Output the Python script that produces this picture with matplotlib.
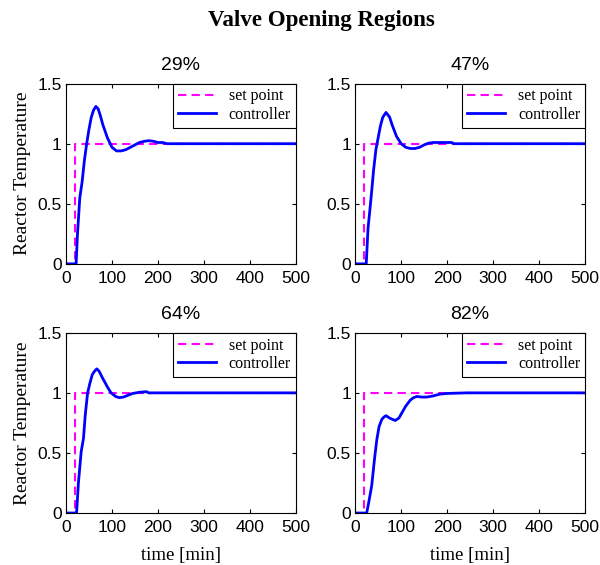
import numpy as np
import matplotlib.pyplot as plt

# valve opening regions
titles = ["29%", "47%", "64%", "82%"]

# set point step
sp_t = [0, 20, 20, 500]
sp_y = [0, 0, 1, 1]

# controller responses
t_29 = [0, 20, 22, 25, 30, 35, 40, 45, 50, 55, 60, 65, 70, 75, 80, 90, 100,
        110, 120, 130, 140, 150, 160, 170, 180, 190, 200, 210, 220, 500]
y_29 = [0, 0, 0, 0.25, 0.55, 0.68, 0.86, 1.0, 1.12, 1.22, 1.28, 1.31, 1.29,
        1.23, 1.16, 1.05, 0.97, 0.94, 0.94, 0.95, 0.97, 0.99, 1.01, 1.02,
        1.025, 1.02, 1.01, 1.01, 1.0, 1.0]

t_47 = [0, 20, 24, 28, 32, 36, 40, 45, 50, 55, 60, 67, 75, 80, 90, 100, 110,
        120, 130, 140, 150, 160, 170, 190, 210, 215, 500]
y_47 = [0, 0, 0, 0.3, 0.45, 0.61, 0.78, 0.95, 1.05, 1.15, 1.22, 1.26, 1.22,
        1.16, 1.06, 1.0, 0.97, 0.96, 0.96, 0.97, 0.99, 1.005, 1.01, 1.01,
        1.01, 1.0, 1.0]

t_64 = [0, 20, 23, 27, 33, 38, 42, 47, 52, 57, 62, 67, 72, 80, 90, 98, 108,
        116, 125, 135, 145, 160, 175, 180, 500]
y_64 = [0, 0, 0, 0.25, 0.51, 0.62, 0.82, 1.0, 1.08, 1.15, 1.18, 1.2, 1.18,
        1.12, 1.05, 1.0, 0.97, 0.96, 0.965, 0.98, 0.995, 1.005, 1.01, 1.0, 1.0]

t_82 = [0, 20, 25, 30, 36, 42, 47, 52, 58, 63, 67, 75, 87, 95, 101, 110, 120,
        127, 134, 145, 156, 170, 185, 200, 243, 500]
y_82 = [0, 0, 0, 0.1, 0.23, 0.45, 0.61, 0.72, 0.78, 0.8, 0.81, 0.79, 0.77,
        0.79, 0.83, 0.89, 0.94, 0.96, 0.97, 0.965, 0.965, 0.975, 0.99, 0.995,
        1.0, 1.0]

series = [(t_29, y_29), (t_47, y_47), (t_64, y_64), (t_82, y_82)]

plt.rcParams["font.family"] = "Liberation Sans"
serif = "Liberation Serif"

fig = plt.figure(figsize=(6, 5.65), dpi=100)

positions = [
    [0.11, 0.533, 0.383, 0.319],
    [0.592, 0.533, 0.383, 0.319],
    [0.11, 0.092, 0.383, 0.319],
    [0.592, 0.092, 0.383, 0.319],
]

for i, (pos, title, (t, y)) in enumerate(zip(positions, titles, series)):
    ax = fig.add_axes(pos)
    ax.plot(sp_t, sp_y, color="magenta", linestyle="--", linewidth=1.5,
            dashes=(4, 2.5), label="set point")
    ax.plot(t, y, color="blue", linewidth=2, label="controller")
    ax.set_xlim(0, 500)
    ax.set_ylim(0, 1.5)
    ax.set_xticks([0, 100, 200, 300, 400, 500])
    ax.set_yticks([0, 0.5, 1, 1.5])
    ax.set_yticklabels(["0", "0.5", "1", "1.5"])
    ax.tick_params(direction="in", top=True, right=True, labelsize=12.5,
                   length=3, width=0.8, pad=3)
    ax.tick_params(axis="x", pad=5)
    ax.set_title(title, fontsize=14, pad=10)
    if i % 2 == 0:
        ax.set_ylabel("Reactor Temperature", fontfamily=serif, fontsize=14,
                      labelpad=5)
    if i >= 2:
        ax.set_xlabel("time [min]", fontfamily=serif, fontsize=13.5,
                      labelpad=9)
    leg = ax.legend(loc="upper right", bbox_to_anchor=(1, 1), borderaxespad=0,
                    fancybox=False, edgecolor="black", framealpha=1,
                    prop={"family": serif, "size": 11.5}, handlelength=2.4,
                    borderpad=0.3, labelspacing=0.15, handletextpad=0.8)
    leg.get_frame().set_linewidth(0.8)

fig.suptitle("Valve Opening Regions", x=0.535, y=0.982, fontfamily=serif,
             fontweight="bold", fontsize=16.5)

fig.savefig("out.png", dpi=100)
